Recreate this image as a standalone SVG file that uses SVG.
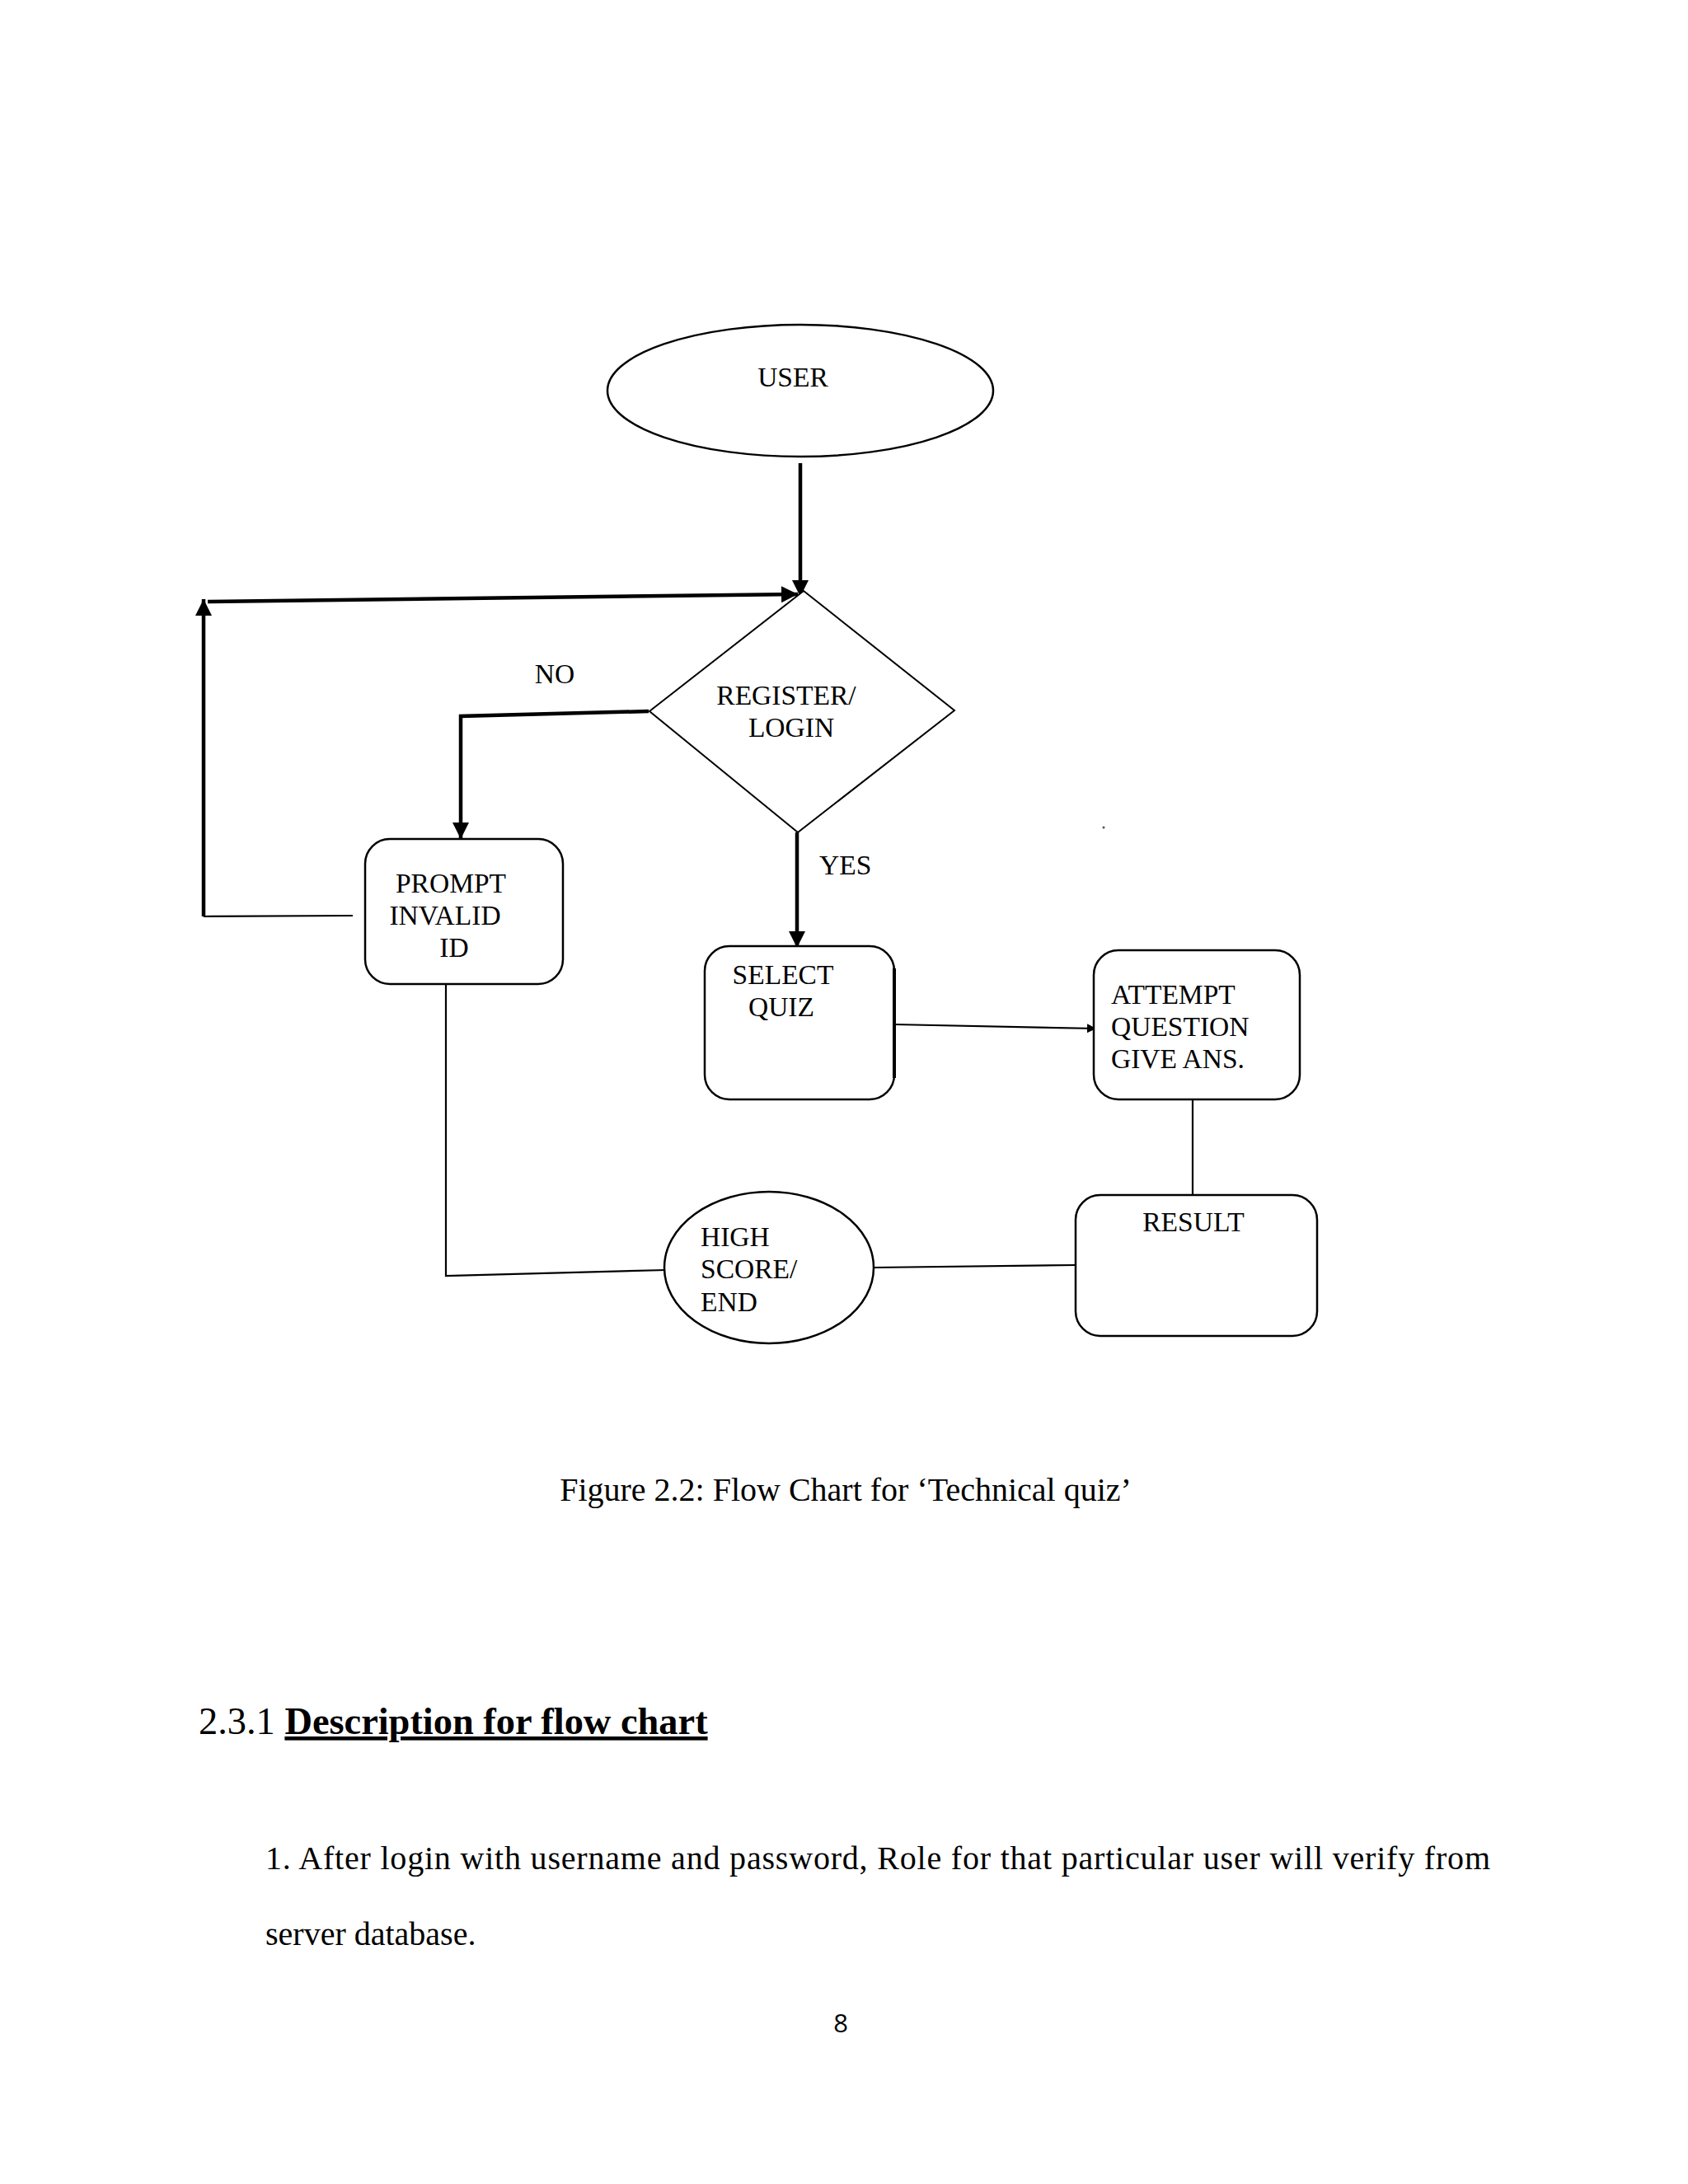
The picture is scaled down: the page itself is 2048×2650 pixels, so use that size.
<svg xmlns="http://www.w3.org/2000/svg" width="2048" height="2650" viewBox="0 0 2048 2650">
<defs>
<style>
.bg{fill:#ffffff}
.shape{fill:#ffffff;stroke:#000000;stroke-width:2.5}
.lbl{font-family:"Liberation Serif","Times New Roman",serif;font-size:33.5px;fill:#000000}
.body{font-family:"Liberation Serif","Times New Roman",serif;font-size:40px;fill:#000000}
.head{font-family:"Liberation Serif","Times New Roman",serif;font-size:46.4px;fill:#000000}
.pg{font-family:"Open Sans","Noto Sans","Liberation Sans",sans-serif;font-size:31px;fill:#000000}
.thick{fill:none;stroke:#000000;stroke-width:4.5}
.thin{fill:none;stroke:#000000;stroke-width:2.2}
</style>
<marker id="ah" viewBox="0 0 10 10" refX="10" refY="5" markerWidth="20" markerHeight="20" markerUnits="userSpaceOnUse" orient="auto">
<path d="M0,0 L10,5 L0,10 Z" fill="#000000"/>
</marker>
<marker id="ahs" viewBox="0 0 10 10" refX="10" refY="5" markerWidth="11" markerHeight="11" markerUnits="userSpaceOnUse" orient="auto">
<path d="M0,0 L10,5 L0,10 Z" fill="#000000"/>
</marker>
</defs>
<rect class="bg" x="0" y="0" width="2048" height="2650"/>

<g id="connectors">
<path class="thick" d="M971,562 L971,724" marker-end="url(#ah)"/>
<path class="thick" d="M252,730 L968,721" marker-end="url(#ah)"/>
<path class="thick" d="M247,1112 L247,727" marker-end="url(#ah)"/>
<path class="thin" d="M428,1111 L247,1112"/>
<path class="thick" d="M787,863 L559,869 L559,1018" marker-end="url(#ah)"/>
<path class="thick" d="M967,1010 L967,1150" marker-end="url(#ah)"/>
<path class="thin" d="M1085,1243 L1330,1248" marker-end="url(#ahs)"/>
<path class="thin" d="M1447,1334 L1447,1450"/>
<path class="thin" d="M1305,1535 L1060,1538"/>
<path class="thin" d="M808,1541 L541,1548 L541,1194"/>
</g>

<g id="user">
<ellipse class="shape" cx="971" cy="474" rx="234" ry="80"/>
<text class="lbl" x="962" y="469" text-anchor="middle">USER</text>
</g>

<g id="register-login">
<polygon class="shape" points="975,717 1158,862 968,1010 788,863" style="stroke-width:2"/>
<text class="lbl" x="954" y="855" text-anchor="middle">REGISTER/</text>
<text class="lbl" x="960" y="894" text-anchor="middle">LOGIN</text>
</g>

<g id="label-no"><text class="lbl" x="673" y="829" text-anchor="middle">NO</text></g>
<g id="label-yes"><text class="lbl" x="994" y="1061">YES</text></g>

<g id="prompt-invalid-id">
<rect class="shape" x="443" y="1018" width="240" height="176" rx="30" ry="30"/>
<text class="lbl" x="547" y="1083" text-anchor="middle">PROMPT</text>
<text class="lbl" x="540" y="1122" text-anchor="middle">INVALID</text>
<text class="lbl" x="551" y="1161" text-anchor="middle">ID</text>
</g>

<g id="select-quiz">
<rect class="shape" x="855" y="1148" width="230" height="186" rx="30" ry="30"/>
<line x1="1085" y1="1175" x2="1085" y2="1308" stroke="#000" stroke-width="4"/>
<text class="lbl" x="950" y="1194" text-anchor="middle">SELECT</text>
<text class="lbl" x="948" y="1233" text-anchor="middle">QUIZ</text>
</g>

<g id="attempt-question">
<rect class="shape" x="1327" y="1153" width="250" height="181" rx="30" ry="30"/>
<text class="lbl" x="1348" y="1218">ATTEMPT</text>
<text class="lbl" x="1348" y="1257">QUESTION</text>
<text class="lbl" x="1348" y="1296">GIVE ANS.</text>
</g>

<g id="result">
<rect class="shape" x="1305" y="1450" width="293" height="171" rx="30" ry="30"/>
<text class="lbl" x="1448" y="1494" text-anchor="middle">RESULT</text>
</g>

<g id="high-score-end">
<ellipse class="shape" cx="933" cy="1538" rx="127" ry="92"/>
<text class="lbl" x="850" y="1512">HIGH</text>
<text class="lbl" x="850" y="1551">SCORE/</text>
<text class="lbl" x="850" y="1591">END</text>
</g>

<circle cx="1339" cy="1004" r="1.5" fill="#555555"/>

<text class="body" x="1026" y="1821" text-anchor="middle">Figure 2.2: Flow Chart for ‘Technical quiz’</text>

<text class="head" x="241" y="2104">2.3.1 <tspan font-weight="bold" text-decoration="underline">Description for flow chart</tspan></text>

<text class="body" x="322" y="2268" textLength="1486" lengthAdjust="spacing">1. After login with username and password, Role for that particular user will verify from</text>
<text class="body" x="322" y="2360">server database.</text>

<text class="pg" x="1020" y="2466" text-anchor="middle">8</text>
</svg>
